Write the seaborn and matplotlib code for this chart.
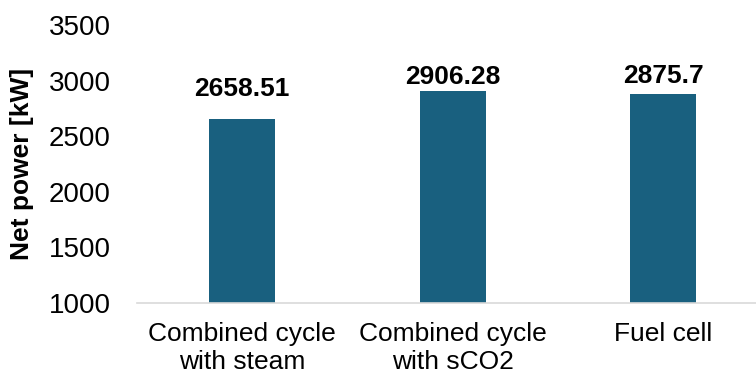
import matplotlib
matplotlib.use("Agg")
import matplotlib.pyplot as plt
import seaborn as sns
import pandas as pd

# Net power per plant configuration
categories = ["Combined cycle\nwith steam", "Combined cycle\nwith sCO2", "Fuel cell"]
net_power = [2658.51, 2906.28, 2875.7]
value_labels = ["2658.51", "2906.28", "2875.7"]
yticks = [1000, 1500, 2000, 2500, 3000, 3500]

sns.set_theme(style="white")
plt.rcParams["font.family"] = ["Liberation Sans", "DejaVu Sans"]

df = pd.DataFrame({"config": categories, "power": net_power})

fig = plt.figure(figsize=(7.56, 3.79), dpi=100)
ax = fig.add_axes([137 / 756, 76 / 379, 619 / 756, 278 / 379])

sns.barplot(data=df, x="config", y="power", color="#19607f", saturation=1,
            width=0.313, linewidth=0, ax=ax)

ax.set_ylim(1000, 3500)
ax.set_xlim(-0.5, -0.5 + 619 / 210.5)
ax.set_yticks(yticks)
ax.set_yticklabels([str(t) for t in yticks])

# value labels above each bar (vertical offsets in points)
label_offsets = [21.5, 10, 13]
for i, (v, txt) in enumerate(zip(net_power, value_labels)):
    ax.annotate(txt, (i, v), xytext=(0, label_offsets[i]), textcoords="offset points",
                ha="center", va="center", fontsize=19, fontweight="bold", color="black")

ax.set_xlabel("")
ax.set_ylabel("Net power [kW]", fontsize=19, fontweight="bold", color="black")
ax.yaxis.set_label_coords(-0.166, 0.5)
ax.tick_params(axis="y", length=0, pad=19, labelsize=20)
ax.tick_params(axis="x", length=0, pad=14, labelsize=19)
for lbl in ax.get_yticklabels() + ax.get_xticklabels():
    lbl.set_color("black")

for side in ["left", "right", "top"]:
    ax.spines[side].set_visible(False)
ax.spines["bottom"].set_color("#d9d9d9")
ax.spines["bottom"].set_linewidth(1.2)
ax.grid(False)

fig.savefig("out.png", dpi=100)
